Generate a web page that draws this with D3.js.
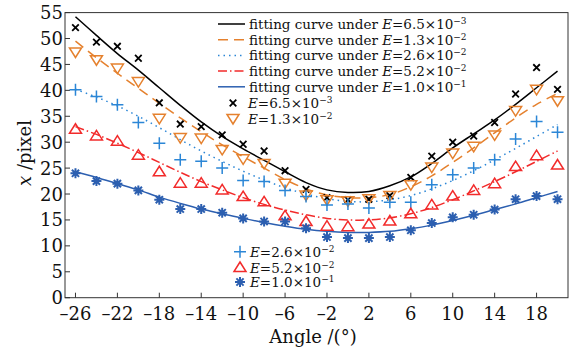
<!DOCTYPE html>
<html>
<head>
<meta charset="utf-8">
<script src="https://cdn.jsdelivr.net/npm/d3@7/dist/d3.min.js"></script>
<style>
  body { margin: 0; background: #fff; }
  text { font-family: "DejaVu Serif", serif; fill: #111; }
</style>
</head>
<body>
<script>
// angles of the measured points
var angles = [-26, -24, -22, -20, -18, -16, -14, -12, -10, -8, -6, -4, -2, 0, 2, 4, 6, 8, 10, 12, 14, 16, 18, 20];

// measured x (pixel) for each E
var obs65  = [52.1, 49.3, 48.5, 46.2, 37.6, 33.5, 33.0, 31.4, 29.6, 28.3, 24.5, 20.9, 19.3, 18.9, 19.0, 19.7, 23.2, 27.3, 30.0, 31.2, 33.8, 39.3, 44.4, 40.2];
var obs13  = [47.4, 45.9, 44.3, 41.7, 34.6, 30.9, 30.8, 28.6, 26.8, 25.9, 22.1, 19.8, 18.9, 18.7, 19.1, 19.7, 21.8, 25.2, 27.9, 29.2, 31.4, 36.1, 40.2, 38.0];
var obs26  = [40.1, 38.8, 37.2, 33.8, 29.8, 26.6, 26.3, 25.0, 22.6, 22.4, 20.7, 19.5, 17.9, 18.1, 17.3, 18.4, 18.4, 21.8, 23.7, 25.0, 26.6, 30.6, 34.0, 31.9];
var obs52  = [32.5, 31.2, 30.2, 27.5, 24.3, 22.1, 22.1, 20.8, 19.5, 18.5, 15.8, 14.7, 13.8, 13.7, 14.2, 14.8, 16.2, 17.9, 19.6, 20.7, 22.0, 25.3, 27.4, 25.6];
var obs100 = [24.0, 22.5, 22.0, 20.7, 18.9, 17.1, 17.1, 16.4, 15.3, 14.7, 14.7, 13.4, 11.7, 11.5, 11.5, 11.7, 13.0, 14.4, 15.5, 16.0, 17.0, 19.0, 19.6, 19.0];

// fitting curves read at the same angles
var fit65  = [54.2, 50.6, 47.1, 43.9, 40.5, 37.1, 33.9, 31.1, 28.7, 26.5, 24.3, 22.2, 20.8, 20.3, 20.5, 21.6, 23.3, 25.9, 28.9, 31.6, 34.3, 37.3, 40.5, 43.7];
var fit13  = [49.5, 46.3, 43.3, 40.4, 37.5, 34.7, 32.0, 29.5, 27.2, 25.0, 22.8, 21.0, 19.8, 19.3, 19.3, 19.9, 21.4, 23.5, 26.1, 28.9, 31.8, 34.7, 37.3, 39.4];
var fit26  = [40.2, 38.7, 37.0, 35.0, 32.8, 30.5, 28.3, 26.3, 24.4, 22.7, 21.2, 20.0, 19.1, 18.6, 18.5, 18.9, 19.7, 21.0, 22.6, 24.5, 26.6, 28.8, 31.1, 33.4];
var fit52  = [33.0, 31.5, 29.8, 28.0, 26.1, 24.2, 22.4, 20.8, 19.3, 18.0, 16.9, 16.0, 15.3, 15.0, 15.0, 15.4, 16.2, 17.4, 18.9, 20.6, 22.4, 24.3, 26.3, 28.3];
var fit100 = [24.3, 23.2, 22.0, 20.8, 19.4, 18.2, 17.1, 16.2, 15.3, 14.5, 13.8, 13.2, 12.8, 12.6, 12.6, 12.8, 13.3, 14.0, 14.9, 15.9, 17.0, 18.1, 19.3, 20.5];

// E labels (mantissa, exponent)
var eLabels = [["6.5", "3"], ["1.3", "2"], ["2.6", "2"], ["5.2", "2"], ["1.0", "1"]];

var xTicks = [-26, -22, -18, -14, -10, -6, -2, 2, 6, 10, 14, 18];
var yTicks = [0, 5, 10, 15, 20, 25, 30, 35, 40, 45, 50, 55];

var W = 572, H = 353,
    m = {top: 12.6, right: 4, bottom: 55.3, left: 65};

var x = d3.scaleLinear().domain([-27, 21]).range([m.left, W - m.right]);
var y = d3.scaleLinear().domain([0, 55]).range([H - m.bottom, m.top]);

var svg = d3.select("body").append("svg")
    .attr("width", W)
    .attr("height", H);

var series = [
    {obs: obs65,  fit: fit65,  color: "#000000", dash: null,            marker: "x"},
    {obs: obs13,  fit: fit13,  color: "#e5812e", dash: "10,6",          marker: "tdown"},
    {obs: obs26,  fit: fit26,  color: "#2b86d6", dash: "1.5,4",         marker: "plus"},
    {obs: obs52,  fit: fit52,  color: "#f22b2b", dash: "9,3,1.5,3",     marker: "tup"},
    {obs: obs100, fit: fit100, color: "#2c5fb0", dash: null,            marker: "star"}
];

function drawMarker(g, type, color) {
    if (type === "x") {
        g.append("path").attr("d", "M-3.3,-3.3L3.3,3.3M-3.3,3.3L3.3,-3.3")
            .attr("stroke", color).attr("stroke-width", 1.8).attr("fill", "none");
    } else if (type === "plus") {
        g.append("path").attr("d", "M-6,0L6,0M0,-6L0,6")
            .attr("stroke", color).attr("stroke-width", 1.5).attr("fill", "none");
    } else if (type === "tdown") {
        g.append("path").attr("d", "M-6,-4L6,-4L0,5.5Z")
            .attr("stroke", color).attr("stroke-width", 1.5).attr("fill", "none");
    } else if (type === "tup") {
        g.append("path").attr("d", "M-6,4L6,4L0,-5.5Z")
            .attr("stroke", color).attr("stroke-width", 1.5).attr("fill", "none");
    } else if (type === "star") {
        g.append("path").attr("d", "M-5,0L5,0M0,-5L0,5M-3.6,-3.6L3.6,3.6M-3.6,3.6L3.6,-3.6")
            .attr("stroke", color).attr("stroke-width", 2).attr("fill", "none");
        g.append("circle").attr("r", 2.2).attr("fill", color);
    }
}

// plot box
svg.append("rect")
    .attr("x", m.left).attr("y", m.top)
    .attr("width", W - m.right - m.left)
    .attr("height", H - m.bottom - m.top)
    .attr("fill", "none")
    .attr("stroke", "#333")
    .attr("stroke-width", 1);

// ticks (inward)
svg.append("g").selectAll("line")
    .data(xTicks)
    .enter().append("line")
    .attr("x1", function (d) { return x(d); })
    .attr("x2", function (d) { return x(d); })
    .attr("y1", y(0))
    .attr("y2", y(0) - 5)
    .attr("stroke", "#333");

svg.append("g").selectAll("line")
    .data(yTicks)
    .enter().append("line")
    .attr("x1", m.left)
    .attr("x2", m.left + 5)
    .attr("y1", function (d) { return y(d); })
    .attr("y2", function (d) { return y(d); })
    .attr("stroke", "#333");

svg.append("g").selectAll("text")
    .data(xTicks)
    .enter().append("text")
    .attr("x", function (d) { return x(d); })
    .attr("y", y(0) + 22)
    .attr("text-anchor", "middle")
    .style("font-size", "18px")
    .text(function (d) { return d < 0 ? "\u2013" + (-d) : d; });

svg.append("g").selectAll("text")
    .data(yTicks)
    .enter().append("text")
    .attr("x", m.left - 2)
    .attr("y", function (d) { return y(d) + 6.5; })
    .attr("text-anchor", "end")
    .style("font-size", "18px")
    .text(function (d) { return d; });

// axis labels
svg.append("text")
    .attr("x", 313)
    .attr("y", 343)
    .attr("text-anchor", "middle")
    .style("font-size", "18px")
    .text("Angle /(\u00b0)");

var yl = svg.append("text")
    .attr("transform", "translate(31,153) rotate(-90)")
    .attr("text-anchor", "middle")
    .style("font-size", "18px");
yl.append("tspan").style("font-style", "italic").text("x");
yl.append("tspan").text(" /pixel");

// fitting curves
var line = d3.line()
    .x(function (d) { return x(d[0]); })
    .y(function (d) { return y(d[1]); })
    .curve(d3.curveCatmullRom);

series.forEach(function (s) {
    svg.append("path")
        .datum(angles.map(function (a, i) { return [a, s.fit[i]]; }))
        .attr("d", line)
        .attr("fill", "none")
        .attr("stroke", s.color)
        .attr("stroke-width", 1.5)
        .attr("stroke-dasharray", s.dash);
});

// measured points
series.forEach(function (s) {
    svg.append("g").selectAll("g")
        .data(angles.map(function (a, i) { return [a, s.obs[i]]; }))
        .enter().append("g")
        .attr("transform", function (d) { return "translate(" + x(d[0]) + "," + y(d[1]) + ")"; })
        .each(function () { drawMarker(d3.select(this), s.marker, s.color); });
});

// legend
function eText(t, lab) {
    t.append("tspan").style("font-style", "italic").text("E");
    t.append("tspan").text("=" + lab[0] + "\u00d710");
    t.append("tspan").attr("dy", -5).style("font-size", "9px").text("\u2212" + lab[1]);
}

var legFit = [24, 39.7, 55.4, 71.1, 86.8];
series.forEach(function (s, i) {
    svg.append("line")
        .attr("x1", 218).attr("x2", 245)
        .attr("y1", legFit[i]).attr("y2", legFit[i])
        .attr("stroke", s.color)
        .attr("stroke-width", 1.5)
        .attr("stroke-dasharray", s.dash);
    var t = svg.append("text")
        .attr("x", 249)
        .attr("y", legFit[i] + 5)
        .style("font-size", "13.5px");
    t.append("tspan").text("fitting curve under ");
    eText(t, eLabels[i]);
});

var legMark = [
    {i: 0, mx: 233, tx: 248, cy: 103},
    {i: 1, mx: 233, tx: 248, cy: 118.5},
    {i: 2, mx: 240, tx: 250, cy: 251.7},
    {i: 3, mx: 240, tx: 250, cy: 267.5},
    {i: 4, mx: 240, tx: 250, cy: 282}
];
legMark.forEach(function (l) {
    var s = series[l.i];
    var g = svg.append("g").attr("transform", "translate(" + l.mx + "," + l.cy + ")");
    drawMarker(g, s.marker, s.color);
    var t = svg.append("text")
        .attr("x", l.tx)
        .attr("y", l.cy + 5)
        .style("font-size", "13.5px");
    eText(t, eLabels[l.i]);
});
</script>
</body>
</html>
